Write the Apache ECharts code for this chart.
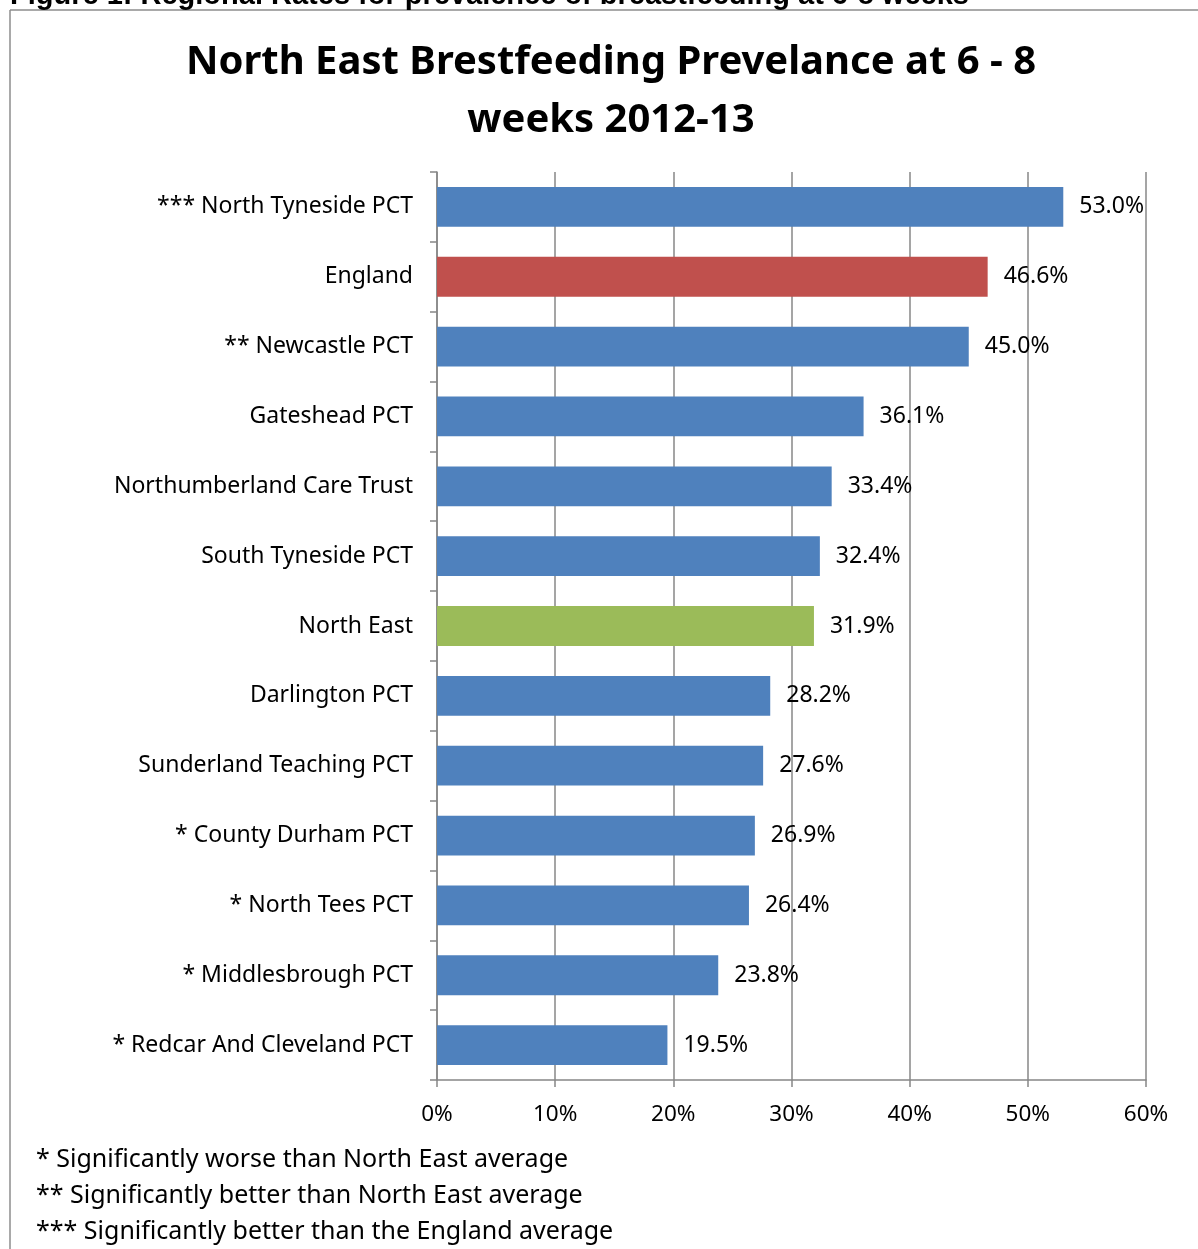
<!DOCTYPE html>
<html>
<head>
<meta charset="utf-8">
<script src="https://cdn.jsdelivr.net/npm/echarts@6/dist/echarts.min.js"></script>
<style>
  html, body { margin: 0; padding: 0; background: #fff; }
  #chart { width: 1198px; height: 1249px; }
</style>
</head>
<body>
<div id="chart"></div>
<script>
    // areas, top to bottom as drawn
    var areas = ['*** North Tyneside PCT', 'England', '** Newcastle PCT', 'Gateshead PCT',
        'Northumberland Care Trust', 'South Tyneside PCT', 'North East', 'Darlington PCT',
        'Sunderland Teaching PCT', '* County Durham PCT', '* North Tees PCT',
        '* Middlesbrough PCT', '* Redcar And Cleveland PCT'];
    var rates = [53.0, 46.6, 45.0, 36.1, 33.4, 32.4, 31.9, 28.2, 27.6, 26.9, 26.4, 23.8, 19.5];
    var xTicks = [0, 10, 20, 30, 40, 50, 60];
    var notes = ['* Significantly worse than North East average',
        '** Significantly better than North East average',
        '*** Significantly better than the England average'];

    var font = '"Noto Sans", sans-serif';
    var greyLine = '#878787';

    function barColour(name) {
        if (name == 'England') return '#C0504D';
        if (name == 'North East') return '#9BBB59';
        return '#4F81BD';
    }

    var myChart = echarts.init(document.getElementById('chart'));
    var option = {
        animation: false,
        grid: {
            left: 437,
            right: 52,
            top: 172,
            bottom: 169,
            containLabel: false
        },
        xAxis: {
            type: 'value',
            min: xTicks[0],
            max: xTicks[xTicks.length - 1],
            interval: 10,
            axisLine: { show: true, lineStyle: { color: greyLine, width: 1.5 } },
            axisTick: { show: true, length: 7, lineStyle: { color: greyLine, width: 1.5 } },
            splitLine: { show: true, lineStyle: { color: greyLine, width: 1.5 } },
            axisLabel: {
                formatter: '{value}%',
                color: '#000',
                fontFamily: font,
                fontSize: 22.5,
                margin: 23
            }
        },
        yAxis: {
            type: 'category',
            inverse: true,
            data: areas,
            axisLine: { show: true, lineStyle: { color: greyLine, width: 1.5 } },
            axisTick: { show: true, length: 7, lineStyle: { color: greyLine, width: 1.5 } },
            axisLabel: {
                color: '#000',
                fontFamily: font,
                fontSize: 23,
                margin: 24,
                padding: [8, 0, 0, 0]
            }
        },
        series: [
            {
                type: 'bar',
                barCategoryGap: '43%',
                data: rates.map(function (v, i) {
                    return { value: v, itemStyle: { color: barColour(areas[i]) } };
                }),
                label: {
                    show: true,
                    position: 'right',
                    distance: 16,
                    color: '#000',
                    fontFamily: font,
                    fontSize: 23,
                    padding: [8, 0, 0, 0],
                    formatter: function (p) { return p.value.toFixed(1) + '%'; }
                }
            }
        ],
        graphic: [
            {
                type: 'line',
                shape: { x1: 10, y1: 10, x2: 1198, y2: 10 },
                style: { stroke: '#8c8c8c', lineWidth: 1.5 }
            },
            {
                type: 'line',
                shape: { x1: 10, y1: 10, x2: 10, y2: 1249 },
                style: { stroke: '#8c8c8c', lineWidth: 1.5 }
            },
            {
                type: 'text',
                x: 10,
                y: 10,
                style: {
                    text: 'Figure 1: Regional Rates for prevalence of breastfeeding at 6-8 weeks',
                    font: 'bold 29px "Liberation Sans", Arial, sans-serif',
                    fill: '#000',
                    textVerticalAlign: 'bottom'
                }
            },
            {
                type: 'text',
                x: 611,
                y: 63,
                style: {
                    text: 'North East Brestfeeding Prevelance at 6 - 8',
                    font: 'bold 40px ' + font,
                    fill: '#000',
                    textAlign: 'center',
                    textVerticalAlign: 'middle'
                }
            },
            {
                type: 'text',
                x: 611,
                y: 121,
                style: {
                    text: 'weeks 2012-13',
                    font: 'bold 40px ' + font,
                    fill: '#000',
                    textAlign: 'center',
                    textVerticalAlign: 'middle'
                }
            },
            {
                type: 'text',
                x: 36,
                y: 1160,
                style: { text: notes[0], font: '25px ' + font, fill: '#000', textVerticalAlign: 'middle' }
            },
            {
                type: 'text',
                x: 36,
                y: 1196,
                style: { text: notes[1], font: '25px ' + font, fill: '#000', textVerticalAlign: 'middle' }
            },
            {
                type: 'text',
                x: 36,
                y: 1232,
                style: { text: notes[2], font: '25px ' + font, fill: '#000', textVerticalAlign: 'middle' }
            }
        ]
    };
    myChart.setOption(option);
</script>
</body>
</html>
